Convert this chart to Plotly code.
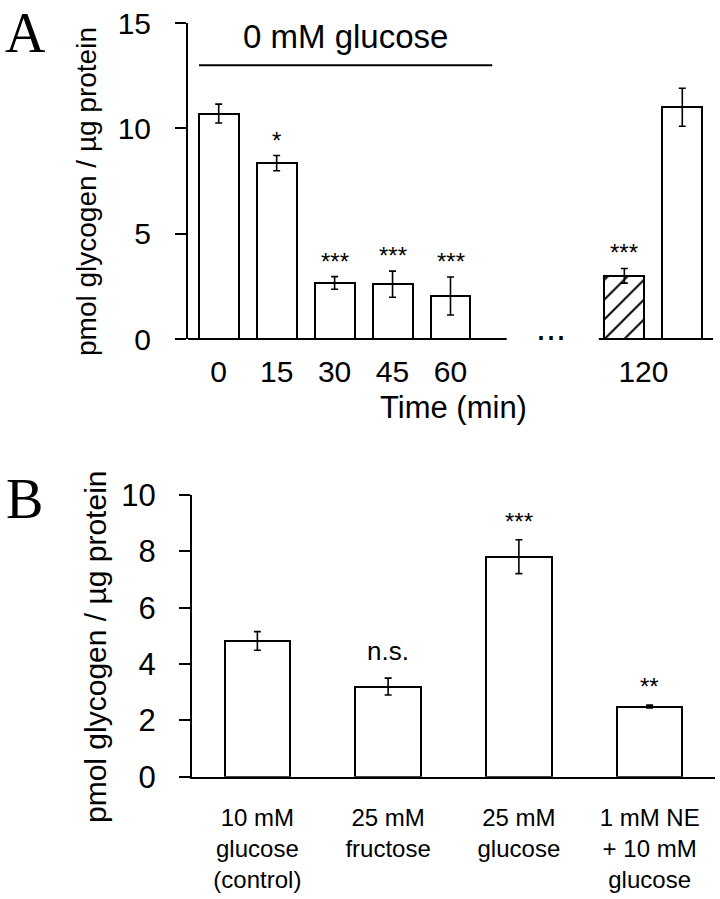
import plotly.graph_objects as go

# ---------------- Data ----------------
# Panel A: glycogen during glucose deprivation
a_pos = [0, 1, 2, 3, 4, 7, 8]
a_values = [10.7, 8.35, 2.66, 2.6, 2.04, 3.0, 11.0]
a_errors = [0.45, 0.36, 0.3, 0.62, 0.9, 0.35, 0.9]
a_hatched = [False, False, False, False, False, True, False]
a_stars = ["", "*", "***", "***", "***", "***", ""]
a_tick_pos = [0, 1, 2, 3, 4, 7.33]
a_tick_text = ["0", "15", "30", "45", "60", "120"]
a_yticks = [0, 5, 10, 15]
a_axis_segments = [(-0.53, 4.97), (6.56, 8.53)]
a_bar_line = (-0.34, 4.72, 13.0)   # x0, x1, y of "0 mM glucose" bar
a_xrange = [-0.53, 8.53]

# Panel B: glycogen under different conditions
b_labels = ["10 mM<br>glucose<br>(control)", "25 mM<br>fructose",
            "25 mM<br>glucose", "1 mM NE<br>+ 10 mM<br>glucose"]
b_values = [4.82, 3.2, 7.81, 2.49]
b_errors = [0.33, 0.3, 0.6, 0.05]
b_stars = ["", "n.s.", "***", "**"]
b_yticks = [0, 2, 4, 6, 8, 10]

ytitle = "pmol glycogen / µg protein"
SANS = "Liberation Sans, Arial, sans-serif"
SERIF = "Liberation Serif, Times New Roman, serif"

fig = go.Figure()

# Panel A bars
fig.add_trace(go.Bar(
    x=a_pos, y=a_values, width=0.69,
    marker=dict(
        color="white",
        line=dict(color="black", width=2),
        pattern=dict(shape=["/" if h else "" for h in a_hatched],
                     fgcolor="black", bgcolor="white", fgopacity=1,
                     size=14, solidity=0.14),
    ),
    error_y=dict(type="data", array=a_errors, color="black", thickness=1.6, width=3.5),
    xaxis="x", yaxis="y", showlegend=False,
))

# Panel B bars
fig.add_trace(go.Bar(
    x=list(range(len(b_values))), y=b_values, width=0.5,
    marker=dict(color="white", line=dict(color="black", width=2)),
    error_y=dict(type="data", array=b_errors, color="black", thickness=1.6, width=3.5),
    xaxis="x2", yaxis="y2", showlegend=False,
))

axis_common = dict(showgrid=False, zeroline=False, color="black", automargin=False)

fig.update_layout(
    width=720, height=899,
    margin=dict(l=0, r=0, t=0, b=0, autoexpand=False),
    paper_bgcolor="white", plot_bgcolor="white",
    bargap=0,
    xaxis=dict(domain=[188/720, 713/720], range=a_xrange, anchor="y",
               tickmode="array", tickvals=a_tick_pos, ticktext=a_tick_text,
               ticks="", showline=False, ticklabelstandoff=12,
               tickfont=dict(family=SANS, size=30, color="black"), **axis_common),
    yaxis=dict(domain=[1-339/899, 1-23/899], range=[0, 15], anchor="x",
               tickmode="array", tickvals=a_yticks,
               ticks="outside", ticklen=11, tickwidth=2, tickcolor="black",
               showline=True, linewidth=2, linecolor="black", ticklabelstandoff=18,
               tickfont=dict(family=SANS, size=30, color="black"), **axis_common),
    xaxis2=dict(domain=[192/720, 715/720], range=[-0.5, 3.5], anchor="y2",
                tickmode="array", tickvals=list(range(len(b_labels))), ticktext=b_labels,
                ticks="", showline=True, linewidth=2, linecolor="black",
                ticklabelstandoff=18,
                tickfont=dict(family=SANS, size=24, color="black"), **axis_common),
    yaxis2=dict(domain=[1-776.7/899, 1-495/899], range=[0, 10], anchor="x2",
                tickmode="array", tickvals=b_yticks,
                ticks="outside", ticklen=11, tickwidth=2, tickcolor="black",
                showline=True, linewidth=2, linecolor="black", ticklabelstandoff=17,
                tickfont=dict(family=SANS, size=31, color="black"), **axis_common),
)

# Panel A broken baseline
def to_dom(v):
    return (v - a_xrange[0]) / (a_xrange[1] - a_xrange[0])

for x0, x1 in a_axis_segments:
    fig.add_shape(type="line", xref="x domain", yref="y domain",
                  x0=to_dom(x0), x1=to_dom(x1), y0=0, y1=0,
                  line=dict(color="black", width=2))

# "0 mM glucose" bar
fig.add_shape(type="line", xref="x", yref="y",
              x0=a_bar_line[0], x1=a_bar_line[1], y0=a_bar_line[2], y1=a_bar_line[2],
              line=dict(color="black", width=2))

C = dict(xanchor="center", showarrow=False)
annotations = []
annotations.append(dict(x=(a_bar_line[0] + a_bar_line[1]) / 2, y=14.35, xref="x", yref="y",
                        text="0 mM glucose", yanchor="middle",
                        font=dict(family=SANS, size=33, color="black"), **C))
annotations.append(dict(x=5.73, y=0, xref="x", yref="y", text="...",
                        yanchor="bottom", yshift=-11,
                        font=dict(family=SANS, size=36, color="black"), **C))
annotations.append(dict(x=453/720, y=1-407/899, xref="paper", yref="paper",
                        text="Time (min)", yanchor="middle",
                        font=dict(family=SANS, size=31, color="black"), **C))

for p, v, e, s in zip(a_pos, a_values, a_errors, a_stars):
    if s:
        annotations.append(dict(x=p, y=v + e, xref="x", yref="y", text=s,
                                yanchor="bottom", yshift=0,
                                font=dict(family=SANS, size=24, color="black"), **C))

for i, (v, e, s) in enumerate(zip(b_values, b_errors, b_stars)):
    if s:
        is_ns = s == "n.s."
        annotations.append(dict(x=i, y=v + e, xref="x2", yref="y2", text=s,
                                yanchor="bottom", yshift=10 if is_ns else 3,
                                font=dict(family=SANS, size=26 if is_ns else 24, color="black"), **C))

# Y titles
annotations.append(dict(x=86/720, y=1-192/899, xref="paper", yref="paper", text=ytitle,
                        textangle=-90, yanchor="middle",
                        font=dict(family=SANS, size=28, color="black"), **C))
annotations.append(dict(x=95/720, y=1-647/899, xref="paper", yref="paper", text=ytitle,
                        textangle=-90, yanchor="middle",
                        font=dict(family=SANS, size=30, color="black"), **C))

# Panel letters
annotations.append(dict(x=25/720, y=1, xref="paper", yref="paper", text="A",
                        yanchor="top",
                        font=dict(family=SERIF, size=56, color="black"), **C))
annotations.append(dict(x=24/720, y=1-499/899, xref="paper", yref="paper", text="B",
                        yanchor="middle",
                        font=dict(family=SERIF, size=56, color="black"), **C))

fig.update_layout(annotations=annotations)

fig.write_html("out.html", config={"displayModeBar": False},
               post_script="document.body.style.margin='0';document.body.style.overflow='hidden';")
